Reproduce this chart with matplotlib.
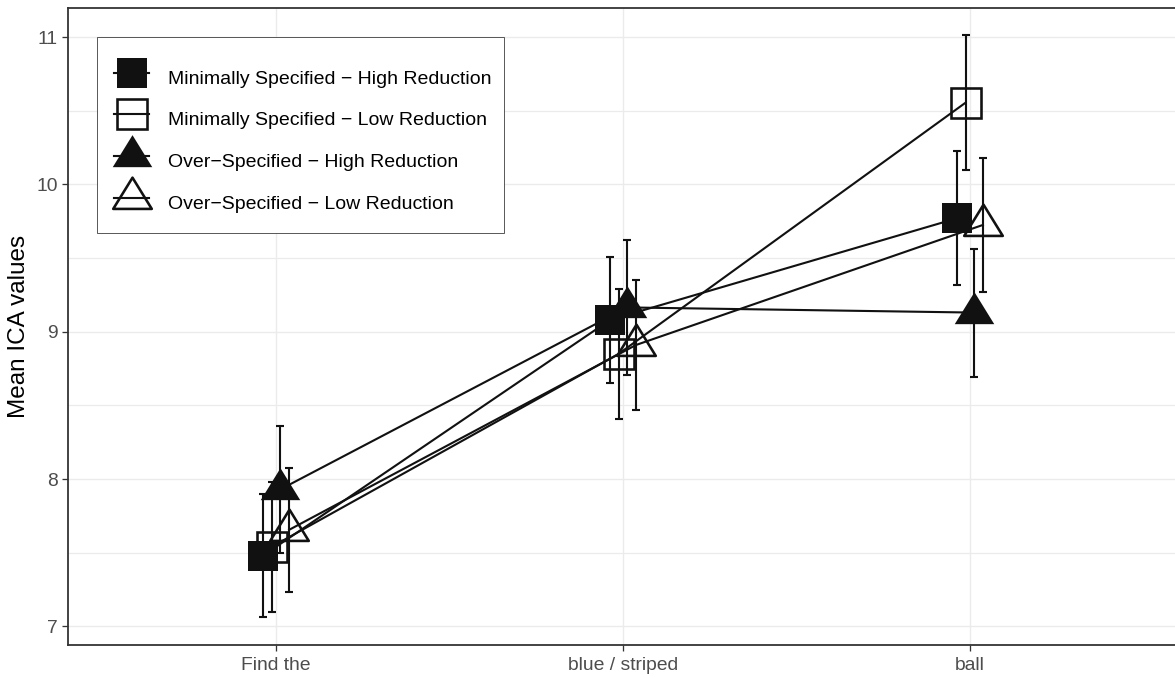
import matplotlib
matplotlib.use("Agg")
import matplotlib.pyplot as plt
from matplotlib.path import Path
from matplotlib.markers import MarkerStyle
from matplotlib.lines import Line2D
from matplotlib.patches import Rectangle
import numpy as np

plt.rcParams['font.family'] = ['Liberation Sans', 'DejaVu Sans']

# ---- data ----
categories = ["Find the", "blue / striped", "ball"]
series_names = [
    "Minimally Specified \u2212 High Reduction",
    "Minimally Specified \u2212 Low Reduction",
    "Over\u2212Specified \u2212 High Reduction",
    "Over\u2212Specified \u2212 Low Reduction",
]
ms_high_mean = [7.48, 9.08, 9.77]
ms_low_mean = [7.54, 8.85, 10.555]
os_high_mean = [7.93, 9.165, 9.13]
os_low_mean = [7.655, 8.91, 9.725]
ms_high_se = [0.42, 0.43, 0.455]
ms_low_se = [0.44, 0.44, 0.46]
os_high_se = [0.43, 0.46, 0.435]
os_low_se = [0.42, 0.44, 0.457]
y_ticks = [7, 8, 9, 10, 11]

means = [ms_high_mean, ms_low_mean, os_high_mean, os_low_mean]
ses = [ms_high_se, ms_low_se, os_high_se, os_low_se]

# ---- styling ----
W, H = 1175, 678
fig = plt.figure(figsize=(W / 100, H / 100), dpi=100)
ax = fig.add_axes([68 / W, 33 / H, 1110 / W, 637 / H])

px = 0.72  # points per pixel

# triangle marker (centroid at origin)
tw, th = 39.5, 32.0
tri_verts = [(0, 2 * th / 3), (tw / 2, -th / 3), (-tw / 2, -th / 3), (0, 2 * th / 3)]
tri_path = Path(tri_verts, [Path.MOVETO, Path.LINETO, Path.LINETO, Path.CLOSEPOLY])
tri_ms = 2 * max(abs(v) for xy in tri_verts for v in xy) * px
sq_ms = 29.5 * px

styles = [
    dict(marker='s', ms=sq_ms, mfc='#111111', mec='#111111', mew=0),
    dict(marker='s', ms=sq_ms, mfc='none', mec='#111111', mew=2.6 * px),
    dict(marker=MarkerStyle(tri_path, joinstyle='miter'), ms=tri_ms, mfc='#111111', mec='#111111', mew=0),
    dict(marker=MarkerStyle(tri_path, joinstyle='miter'), ms=tri_ms - 1 * px, mfc='none', mec='#111111', mew=2.6 * px),
]
offsets = [-0.0375, -0.0125, 0.0125, 0.0375]
lw = 2.1 * px
x = np.arange(len(categories))

handles = []
for m, s, st, off in zip(means, ses, styles, offsets):
    xs = x + off
    ax.plot(xs, m, color='#111111', lw=lw, zorder=3, solid_joinstyle='round')
    ax.errorbar(xs, m, yerr=s, fmt='none', ecolor='#111111', elinewidth=lw,
                capsize=4 * px, capthick=lw, zorder=3)
    ax.plot(xs, m, linestyle='none', zorder=4, **st)
    handles.append(Line2D([], [], color='#111111', lw=lw, **st))

ax.set_xlim(-0.6, 2.6)
ax.set_ylim(6.873, 11.198)
ax.set_xticks(x)
ax.set_xticklabels(categories)
ax.set_yticks(y_ticks)
ax.set_yticks([7.5, 8.5, 9.5, 10.5], minor=True)

ax.grid(True, which='major', color='#EBEBEB', lw=1.4 * px, zorder=0)
ax.grid(True, which='minor', axis='y', color='#EBEBEB', lw=1.2 * px, zorder=0)
ax.set_axisbelow(True)

for sp in ax.spines.values():
    sp.set_color('#333333')
    sp.set_linewidth(1.8 * px)

ax.tick_params(axis='both', which='major', length=6 * px, width=1.3 * px,
               color='#333333', labelcolor='#4D4D4D', labelsize=13.9, pad=4 * px)
ax.tick_params(axis='x', which='major', pad=6.5 * px)
ax.tick_params(axis='both', which='minor', length=0)

ax.set_ylabel("Mean ICA values", fontsize=17.5, color='black', va='center')
ax.yaxis.set_label_coords((19.5 - 68) / 1110, 0.5)

# legend frame (drawn separately, figure pixel coords)
lx0, lx1, ly0, ly1 = 97.3, 504.3, 37.3, 233.3
fig.patches.append(Rectangle((lx0 / W, 1 - ly1 / H), (lx1 - lx0) / W, (ly1 - ly0) / H,
                             transform=fig.transFigure, facecolor='white',
                             edgecolor='#333333', lw=0.8 * px, zorder=5))

fs = 14.0
fs_px = fs / px
row_h = 41.7
leg = fig.legend(handles, series_names, loc='upper left',
                 bbox_to_anchor=((131.7 - 17.5) / W, 1 - (73.3 - 11.5) / H),
                 bbox_transform=fig.transFigure,
                 borderaxespad=0, fontsize=fs, frameon=False,
                 labelspacing=(row_h - 32.0) / fs_px,
                 handleheight=41.7 / fs_px, handlelength=35.0 / fs_px,
                 handletextpad=(168.3 - 131.7 - 17.5) / fs_px, borderpad=0)
leg.set_zorder(6)

fig.savefig("out.png", dpi=100)
